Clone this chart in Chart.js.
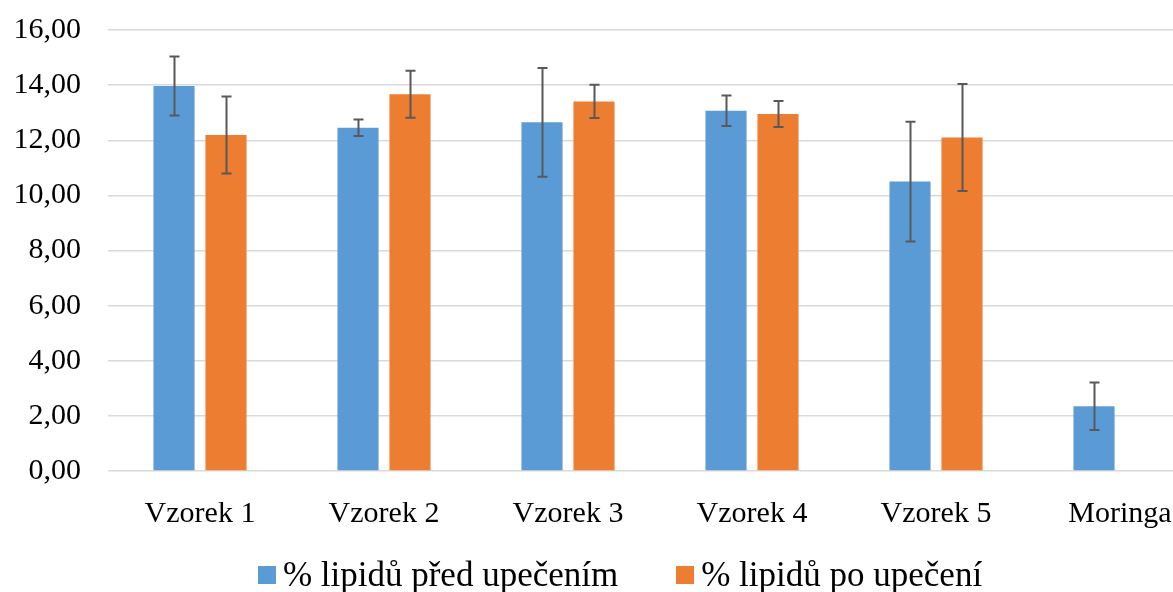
<!DOCTYPE html>
<html>
<head>
<meta charset="utf-8">
<script src="https://cdn.jsdelivr.net/npm/chart.js@4/dist/chart.umd.min.js"></script>
<style>
  html, body { margin: 0; padding: 0; background: #fff; overflow: hidden; }
  #wrap { position: relative; width: 1173px; height: 592px; overflow: hidden; }
  #box { position: absolute; left: 0; top: 0; width: 1216px; height: 592px; }
  #legend { position: absolute; left: 0; top: 553px; width: 1240px; display: flex; justify-content: center;
            font-family: "Liberation Serif", "Times New Roman", serif; font-size: 35px; color: #000; line-height: 44px; }
  .item { display: flex; align-items: center; margin: 0 29px; }
  .sw { width: 18px; height: 18px; margin-right: 7px; }
</style>
</head>
<body>
<div id="wrap">
  <div id="box"><canvas id="c"></canvas></div>
  <div id="legend"></div>
</div>
<script>
const categories = ["Vzorek 1", "Vzorek 2", "Vzorek 3", "Vzorek 4", "Vzorek 5", "Moringa"];
const seriesNames = ["% lipidů před upečením", "% lipidů po upečení"];
const before = [13.97, 12.45, 12.65, 13.07, 10.50, 2.35];
const beforeErr = [1.07, 0.30, 1.97, 0.55, 2.17, 0.86];
const after = [12.19, 13.67, 13.41, 12.95, 12.10, null];
const afterErr = [1.40, 0.85, 0.60, 0.47, 1.94, null];
const yTicks = [0, 2, 4, 6, 8, 10, 12, 14, 16];
const colors = ["#5B9BD5", "#ED7D31"];

const errors = [beforeErr, afterErr];

const errorBarPlugin = {
  id: 'errorBars',
  afterDatasetsDraw(chart) {
    const ctx = chart.ctx;
    const y = chart.scales.y;
    ctx.save();
    ctx.strokeStyle = '#595959';
    ctx.lineWidth = 2;
    chart.data.datasets.forEach((ds, di) => {
      const meta = chart.getDatasetMeta(di);
      meta.data.forEach((bar, i) => {
        const v = ds.data[i];
        const e = errors[di][i];
        if (v == null || e == null) return;
        const x = Math.round(bar.x) + 0.5;
        const yt = y.getPixelForValue(v + e);
        const yb = y.getPixelForValue(v - e);
        ctx.beginPath();
        ctx.moveTo(x, yt); ctx.lineTo(x, yb);
        ctx.moveTo(x - 5, yt); ctx.lineTo(x + 5, yt);
        ctx.moveTo(x - 5, yb); ctx.lineTo(x + 5, yb);
        ctx.stroke();
      });
    });
    ctx.restore();
  }
};

const font = { family: '"Liberation Serif", "Times New Roman", serif', size: 30 };

new Chart(document.getElementById('c'), {
  type: 'bar',
  data: {
    labels: categories,
    datasets: [
      { label: seriesNames[0], data: before, backgroundColor: colors[0], barPercentage: 0.79, categoryPercentage: 0.565 },
      { label: seriesNames[1], data: after, backgroundColor: colors[1], barPercentage: 0.79, categoryPercentage: 0.565 }
    ]
  },
  options: {
    responsive: true,
    maintainAspectRatio: false,
    animation: false,
    layout: { padding: { left: 13, right: 4, top: 30, bottom: 35 } },
    plugins: { legend: { display: false }, tooltip: { enabled: false } },
    scales: {
      x: {
        afterFit(scale) { scale.paddingLeft = 0; scale.paddingRight = 0; },
        grid: { display: false, drawTicks: false },
        border: { display: false },
        ticks: { font: font, color: '#000', padding: 25, maxRotation: 0 }
      },
      y: {
        min: 0, max: 16,
        afterBuildTicks(scale) { scale.ticks = yTicks.map(v => ({ value: v })); },
        afterFit(scale) { scale.width = 95; scale.paddingTop = 0; scale.paddingBottom = 0; },
        grid: { color: '#D9D9D9', lineWidth: 1.5, drawTicks: false },
        border: { display: false },
        ticks: {
          font: font, color: '#000', padding: 27,
          callback: v => v.toFixed(2).replace('.', ',')
        }
      }
    }
  },
  plugins: [errorBarPlugin]
});

const lg = document.getElementById('legend');
seriesNames.forEach((n, i) => {
  const it = document.createElement('div');
  it.className = 'item';
  const sw = document.createElement('div');
  sw.className = 'sw';
  sw.style.background = colors[i];
  const t = document.createElement('span');
  t.textContent = n;
  it.appendChild(sw); it.appendChild(t);
  lg.appendChild(it);
});
</script>
</body>
</html>
